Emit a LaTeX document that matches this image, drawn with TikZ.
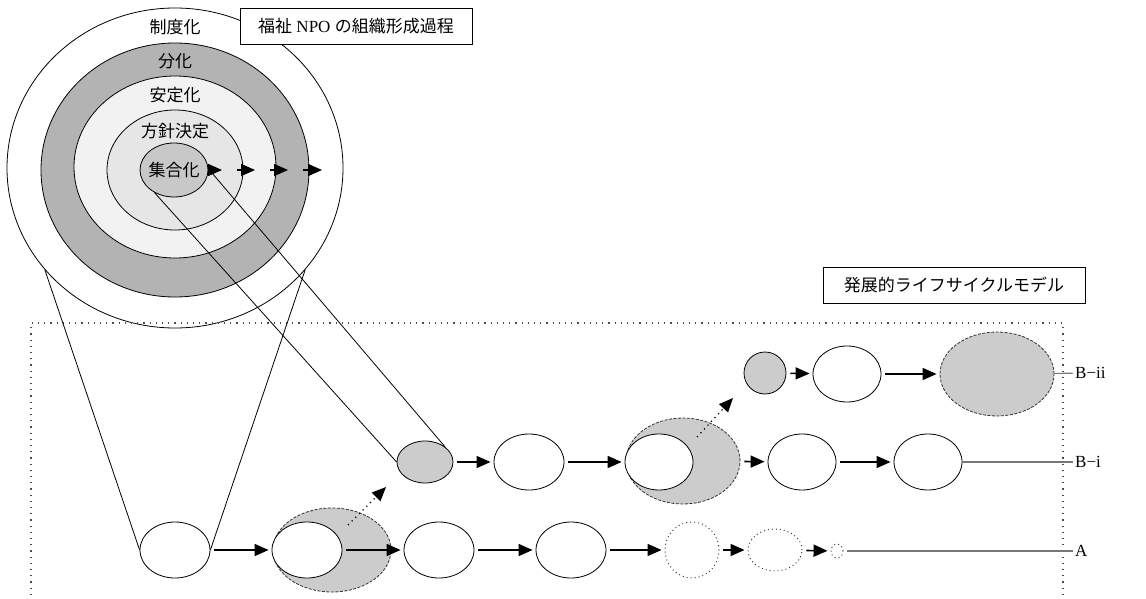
\documentclass[tikz,border=0pt]{standalone}
\usepackage{fontspec}
\setmainfont{Liberation Serif}
\newfontfamily\jp{Noto Sans CJK JP}
\usetikzlibrary{shapes.geometric,arrows.meta}
\definecolor{ringgray}{HTML}{B3B3B3}
\definecolor{ringlight}{HTML}{F2F2F2}
\definecolor{ringmid}{HTML}{E6E6E6}
\definecolor{coregray}{HTML}{C8C8C8}
\definecolor{blobgray}{HTML}{CCCCCC}
\definecolor{leadgray}{HTML}{777777}
\begin{document}
\begin{tikzpicture}[x=1pt,y=-1pt,
  every node/.style={font=\fontsize{17pt}{19pt}\selectfont},
  ell/.style={ellipse,draw,line width=0.8pt,inner sep=0pt,fill=white},
  esz/.style 2 args={minimum width=#1pt,minimum height=#2pt},
  blob/.style={ellipse,draw=black!80,line width=0.8pt,inner sep=0pt,fill=blobgray,dash pattern=on 3pt off 1.5pt},
  ghost/.style={ellipse,draw=black!80,line width=0.9pt,inner sep=0pt,dash pattern=on 1pt off 3pt},
  arr/.style={line width=1.6pt,-{Triangle[length=14pt,width=12pt]},shorten <=4pt,shorten >=3pt},
  darr/.style={line width=1.2pt,dash pattern=on 1.2pt off 4pt,-{Triangle[length=14pt,width=12pt]}},
  sarr/.style={line width=1.6pt,-{Triangle[length=14pt,width=12pt]}},
  lead/.style={draw=leadgray,line width=1.1pt},
  thin/.style={line width=0.8pt},
  lab/.style={anchor=west,inner sep=2pt},
  frame/.style={line width=1.2pt,black!70,dash pattern=on 1.2pt off 5pt},
  box/.style={draw,line width=0.8pt,fill=white,inner sep=0pt}
]
\useasboundingbox (0,0) rectangle (1146,599);

% concentric stages
\node[ell,esz={336}{320}] (inst) at (175,168) {};
\node[ell,fill=ringgray,esz={268}{254}] (diff) at (175,170) {};
\node[ell,fill=ringlight,esz={202}{182}] (stab) at (175,167) {};
\node[ell,fill=ringmid,esz={136}{120}] (pol) at (175,170) {};
\node[ell,fill=coregray,esz={68}{54}] (core) at (174,170) {};
\node (tcore) at (174,170) {\jp 集合化};
\node (tinst) at (175,27) {\jp 制度化};
\node (tdiff) at (175,61) {\jp 分化};
\node (tstab) at (175,95) {\jp 安定化};
\node (tpol) at (175,131) {\jp 方針決定};

\coordinate (s1) at (208,170); \coordinate (e1) at (222,170);
\coordinate (s2) at (237,170); \coordinate (e2) at (255,170);
\coordinate (s3) at (270,170); \coordinate (e3) at (288,170);
\coordinate (s4) at (303,170); \coordinate (e4) at (322,170);
\draw[sarr] (s1) -- (e1);
\draw[sarr] (s2) -- (e2);
\draw[sarr] (s3) -- (e3);
\draw[sarr] (s4) -- (e4);

\node[box,minimum width=232pt,minimum height=36pt] (title) at (356,26) {{\jp 福祉} NPO {\jp の組織形成過程}};

% frame
\draw[frame] (31,595) -- (31,323) -- (1063,323) -- (1063,595);
\node[box,minimum width=262pt,minimum height=36pt] (model) at (954,285) {\jp 発展的ライフサイクルモデル};

% row A
\node[ell,esz={70}{56}] (a1) at (175,550) {};
\node[blob,esz={118}{84}] (a2) at (332,550) {};
\node[ell,esz={70}{56}] (a2w) at (307,550) {};
\node[ell,esz={70}{56}] (a3) at (439,550) {};
\node[ell,esz={70}{56}] (a4) at (571,550) {};
\node[ghost,esz={54}{56}] (a5) at (692,550) {};
\node[ghost,esz={54}{42}] (a6) at (775,550) {};
\node[ghost,esz={12}{14}] (a7) at (837,551) {};
\node[lab] (lA) at (1073,551) {A};

% row B-i
\node[ell,fill=blobgray,esz={56}{42}] (b1) at (425,462) {};
\node[ell,esz={70}{56}] (b2) at (529,462) {};
\node[blob,esz={114}{86}] (b3) at (683,461) {};
\node[ell,esz={68}{56}] (b3w) at (659,462) {};
\node[ell,esz={68}{56}] (b4) at (802,462) {};
\node[ell,esz={68}{56}] (b5) at (928,462) {};
\node[lab] (lBi) at (1073,462) {B−i};

% row B-ii
\node[ell,fill=blobgray,esz={42}{42}] (c1) at (765,373) {};
\node[ell,esz={68}{56}] (c2) at (847,374) {};
\node[blob,esz={114}{84}] (c3) at (997,374) {};
\node[lab] (lBii) at (1073,373) {B−ii};

% zoom lines
\draw[thin] (inst.218) -- (a1.west);
\draw[thin] (inst.322) -- (a1.east);
\coordinate (z2) at (212,173);
\draw[thin] (core.229) -- (b1.west);
\draw[thin] (z2) -- (b1.north east);

% arrows
\draw[arr] (a1) -- (a2w);
\draw[arr] (a2w) -- (a3);
\draw[arr] (a3) -- (a4);
\draw[arr] (a4) -- (a5);
\draw[arr] (a5) -- (a6);
\draw[arr] (a6) -- (a7);
\draw[arr] (b1) -- (b2);
\draw[arr] (b2.east) -- (b3w.west);
\draw[arr] (b3) -- (b4);
\draw[arr] (b4) -- (b5);
\draw[arr] (c1) -- (c2);
\draw[arr] (c2) -- (c3);

\coordinate (d1s) at (348,525); \coordinate (d1e) at (386,487);
\coordinate (d2s) at (697,437); \coordinate (d2e) at (733,398);
\draw[darr] (d1s) -- (d1e);
\draw[darr] (d2s) -- (d2e);

% leads to labels
\draw[lead,shorten <=4pt] (a7) -- (lA);
\draw[lead] (b5) -- (lBi);
\draw[lead] (c3) -- (lBii);
\end{tikzpicture}
\end{document}
